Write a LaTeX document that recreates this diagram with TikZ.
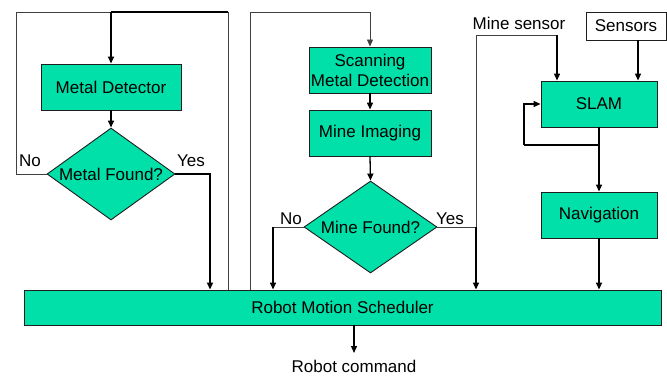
\documentclass[tikz,border=0pt]{standalone}
\usepackage{fontspec}
\setmainfont{Liberation Sans}
\usetikzlibrary{arrows.meta,shapes.geometric}
\definecolor{boxfill}{RGB}{0,224,168}
\definecolor{edge}{RGB}{30,30,30}
\begin{document}
\begin{tikzpicture}[x=1pt,y=-1pt,
  font=\fontsize{17}{20}\selectfont,
  box/.style={draw=edge,line width=0.9pt,fill=boxfill,rectangle,inner sep=0pt,align=center},
  dia/.style={draw=edge,line width=0.9pt,fill=boxfill,diamond,inner sep=0pt},
  lab/.style={inner sep=0pt},
  thn/.style={line width=0.9pt,draw=black!75},
  med/.style={line width=1.3pt},
  thk/.style={line width=2pt},
  arr/.style={-{Triangle[length=7pt,width=6pt]}}]
\useasboundingbox (0,0) rectangle (667,377);
% nodes
\node[box,minimum width=140pt,minimum height=46pt] (md) at (111,87) {Metal Detector};
\node[dia,minimum width=128pt,minimum height=92pt] (mf) at (111,174) {\makebox[0pt]{Metal Found?}};
\node[box,minimum width=122pt,minimum height=46pt] (sm) at (370,70) {Scanning\\Metal Detection};
\node[box,minimum width=122pt,minimum height=46pt] (mi) at (370,133) {Mine Imaging};
\node[dia,minimum width=133pt,minimum height=92pt] (mnf) at (370.5,227) {\makebox[0pt]{Mine Found?}};
\node[box,minimum width=116pt,minimum height=46pt] (slam) at (599,104) {SLAM};
\node[box,minimum width=116pt,minimum height=46pt] (nav) at (599,215) {Navigation};
\node[box,fill=white,line width=0.7pt,minimum width=80pt,minimum height=28pt] (sens) at (626,26) {Sensors};
\node[box,minimum width=637pt,minimum height=35pt] (rms) at (342.5,307.5) {Robot Motion Scheduler};
\node[lab] (rc) at (354,366) {Robot command};
\node[lab] (msl) at (519,23) {Mine sensor};
\node[lab] (no1) at (30,161) {No};
\node[lab] (yes1) at (191,161) {Yes};
\node[lab] (no2) at (291,219) {No};
\node[lab] (yes2) at (450,219) {Yes};
% coordinates
\coordinate (tl) at (16,12);
\coordinate (tm) at (111,12);
\coordinate (tr) at (228,12);
\coordinate (ya) at (210,174);
\coordinate (l2) at (250,12);
\coordinate (nb) at (273,227);
\coordinate (yb) at (476,227);
\coordinate (ms) at (476,35);
\coordinate (ms2) at (557,35);
\coordinate (sx) at (638,40);
\coordinate (fb) at (599,145);
\coordinate (fl) at (524,145);
\coordinate (rcs) at (354,325);
\coordinate (rce) at (354,353);
% left loop
\draw[thn] (mf.west) -| (tl) -- (tm);
\draw[thk] (tr) -- (tm);
\draw[thk,arr] (tm) -- (md.north);
\draw[thn] (rms.north -| tr) -- (tr);
\draw[med,arr] (md.south) -- (mf.north);
\draw[thk,arr] (mf.east) -- (ya) -- (ya |- rms.north);
% middle
\draw[thn,arr] (rms.north -| l2) -- (l2) -| (sm.north);
\draw[med,arr] (sm.south) -- (mi.north);
\draw[med,arr] (mi.south) -- (mnf.north);
\draw[thn] (mnf.west) -- (nb);
\draw[med,arr] (nb) -- (nb |- rms.north);
\draw[thn] (mnf.east) -- (yb);
\draw[med,arr] (yb) -- (yb |- rms.north);
% right
\draw[thn] (yb) -- (ms) -- (ms2);
\draw[med,arr] (ms2) -- (ms2 |- slam.north);
\draw[med,arr] (sx) -- (sx |- slam.north);
\draw[med] (slam.south) -- (fb) -- (fl);
\draw[med,arr] (fl) |- (slam.west);
\draw[med,arr] (fb) -- (nav.north);
\draw[thk,arr] (nav.south) -- (nav.south |- rms.north);
\draw[med,arr] (rcs) -- (rce);
\end{tikzpicture}
\end{document}
